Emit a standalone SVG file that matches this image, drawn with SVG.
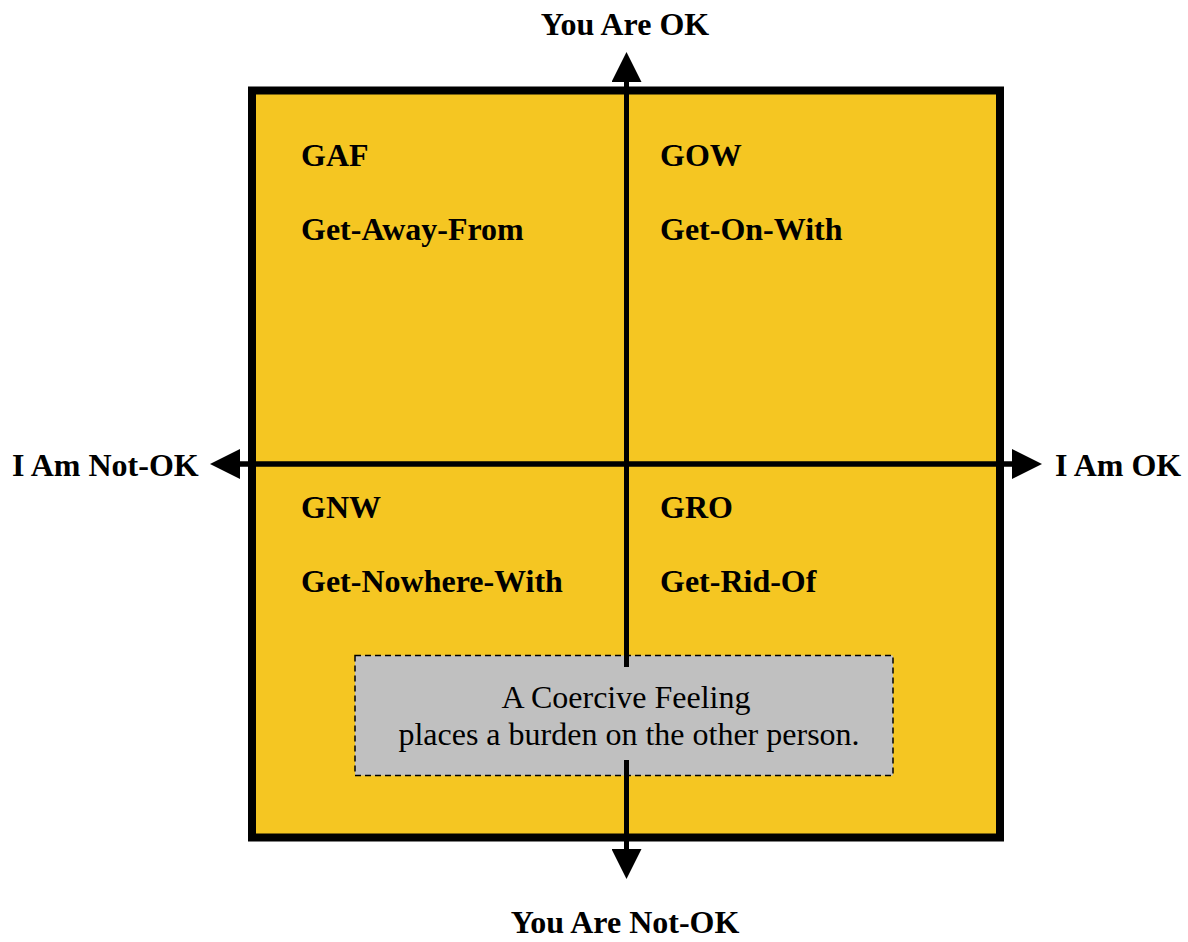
<svg xmlns="http://www.w3.org/2000/svg" width="1188" height="942" viewBox="0 0 1188 942">
<style>
.b{font-family:"Liberation Serif","Times New Roman",serif;font-weight:bold;font-size:32px;fill:#000}
.n{font-family:"Liberation Serif","Times New Roman",serif;font-size:32px;fill:#000}
.ax{stroke:#000;stroke-width:5;fill:none}
</style>
<defs>
<marker id="ah" viewBox="0 0 30 30" refX="0" refY="15" markerWidth="30" markerHeight="30" markerUnits="userSpaceOnUse" orient="auto">
<path d="M0,0 L30,15 L0,30 Z" fill="#000"/>
</marker>
</defs>
<rect width="1188" height="942" fill="#fff"/>
<g id="frame">
<rect x="252" y="90.5" width="748" height="747" fill="#F5C622" stroke="#000" stroke-width="8"/>
</g>
<g id="note">
<rect x="355" y="655.5" width="538" height="120" fill="#C0C0C0" stroke="#000" stroke-width="1.5" stroke-dasharray="6,4"/>
<text class="n" x="626" y="708" text-anchor="middle">A Coercive Feeling</text>
<text class="n" x="629" y="745" text-anchor="middle">places a burden on the other person.</text>
</g>
<g id="connectors">
<line class="ax" x1="240" y1="464" x2="1012" y2="464"/>
<line class="ax" x1="626.5" y1="464" x2="240" y2="464" marker-end="url(#ah)"/>
<line class="ax" x1="626.5" y1="464" x2="1012" y2="464" marker-end="url(#ah)"/>
<line class="ax" x1="626.5" y1="667" x2="626.5" y2="82" marker-end="url(#ah)"/>
<line class="ax" x1="626.5" y1="760" x2="626.5" y2="849" marker-end="url(#ah)"/>
</g>
<g id="gaf"><text class="b" x="301" y="166">GAF</text><text class="b" x="301" y="240">Get-Away-From</text></g>
<g id="gow"><text class="b" x="660" y="166">GOW</text><text class="b" x="660" y="240">Get-On-With</text></g>
<g id="gnw"><text class="b" x="301" y="518">GNW</text><text class="b" x="301" y="592">Get-Nowhere-With</text></g>
<g id="gro"><text class="b" x="660" y="518">GRO</text><text class="b" x="660" y="592">Get-Rid-Of</text></g>
<g id="you-ok"><text class="b" x="625" y="35" text-anchor="middle">You Are OK</text></g>
<g id="you-not-ok"><text class="b" x="625" y="933" text-anchor="middle">You Are Not-OK</text></g>
<g id="i-not-ok"><text class="b" x="12" y="476">I Am Not-OK</text></g>
<g id="i-ok"><text class="b" x="1055" y="476">I Am OK</text></g>
</svg>
